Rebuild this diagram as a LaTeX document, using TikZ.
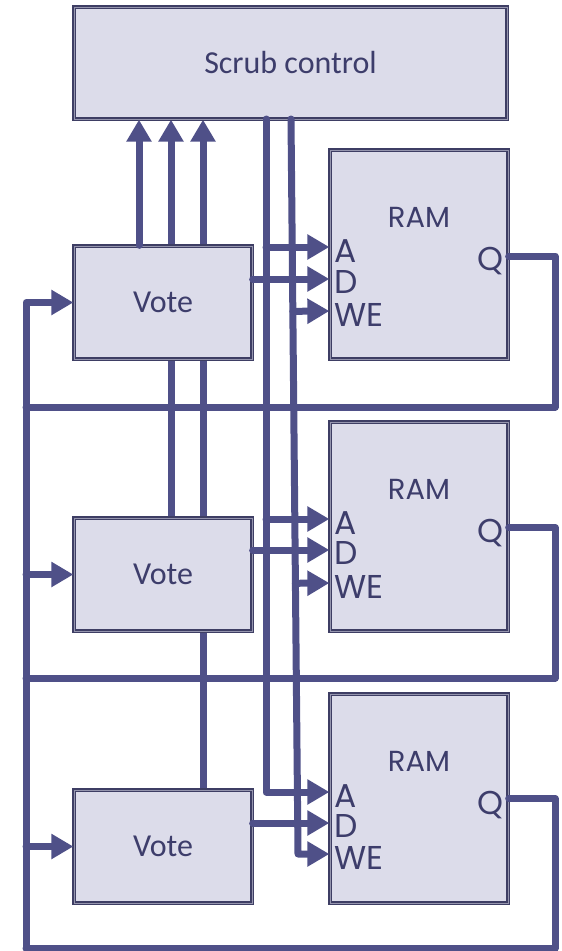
\documentclass[tikz,border=0pt]{standalone}
\usepackage{fontspec}
\setmainfont{Carlito}
\newfontfamily\pinfont{Poppins}
\usepackage{tikz}
\usetikzlibrary{arrows.meta,calc,positioning,backgrounds}
\definecolor{sigblue}{RGB}{79,80,136}
\definecolor{boxfill}{RGB}{220,220,234}
\definecolor{boxedge}{RGB}{62,62,100}
\definecolor{textblue}{RGB}{61,61,107}

\tikzset{
  block/.style={draw=boxedge, fill=boxfill, line width=1.3pt, double=boxfill!55!boxedge,
    double distance=1pt, inner sep=0pt, text=textblue, font=\fontsize{32}{36}\selectfont},
  sig/.style={draw=sigblue, line width=7pt, line cap=round, line join=round},
  sigarrow/.style={sig, -{Triangle[length=22pt,width=24pt]}},
  pinlbl/.style={inner sep=0pt, text=textblue, font=\pinfont\fontsize{33}{36}\selectfont},
  ramlbl/.style={pinlbl, font=\pinfont\fontsize{29}{32}\selectfont},
}

\begin{document}
\begin{tikzpicture}[x=1pt,y=-1pt]
        \useasboundingbox (0,0) rectangle (562,951);
        %Blocks
        \node[block, minimum width=433pt, minimum height=112pt] (scrub) at (290.5,63) {Scrub control};
        \node[block, minimum width=178pt, minimum height=113pt] (vote1) at (163,302.5) {Vote};
        \node[block, minimum width=178pt, minimum height=113pt] (vote2) at (163,574.5) {Vote};
        \node[block, minimum width=178pt, minimum height=113pt] (vote3) at (163,846.5) {Vote};
        \node[block, minimum width=178pt, minimum height=209pt] (ram1) at (419,254.5) {};
        \node[block, minimum width=178pt, minimum height=209pt] (ram2) at (419,526.5) {};
        \node[block, minimum width=178pt, minimum height=209pt] (ram3) at (419,798.5) {};
        %Pins
        \coordinate (ram1A) at ($(ram1.west)+(0,-7.5)$);
        \coordinate (ram1D) at ($(ram1.west)+(0,24.5)$);
        \coordinate (ram1WE) at ($(ram1.west)+(0,56.5)$);
        \coordinate (ram1Q) at ($(ram1.east)+(0,1.5)$);
        \coordinate (ram2A) at ($(ram2.west)+(0,-7.5)$);
        \coordinate (ram2D) at ($(ram2.west)+(0,23.5)$);
        \coordinate (ram2WE) at ($(ram2.west)+(0,56.5)$);
        \coordinate (ram2Q) at ($(ram2.east)+(0,1)$);
        \coordinate (ram3A) at ($(ram3.west)+(0,-6.5)$);
        \coordinate (ram3D) at ($(ram3.west)+(0,24.5)$);
        \coordinate (ram3WE) at ($(ram3.west)+(0,55.5)$);
        \coordinate (ram3Q) at ($(ram3.east)+(0,0)$);
        %Buses
        \coordinate (atop) at (266,119);
        \coordinate (wetop) at (291,119);
        \coordinate (webot) at (298,854);
        \coordinate (fb1) at (555,407);
        \coordinate (fb2) at (555,678);
        \coordinate (fb3) at (555,948);
        \coordinate (lb1) at (26,407);
        \coordinate (lb2) at (26,678);
        \coordinate (lb3) at (26,948);
        %Labels
        \node[ramlbl, anchor=base] (ram1t) at ($(ram1.center)+(0,-27.5)$) {RAM};
        \node[ramlbl, anchor=base] (ram2t) at ($(ram2.center)+(0,-27.5)$) {RAM};
        \node[ramlbl, anchor=base] (ram3t) at ($(ram3.center)+(0,-27.5)$) {RAM};
        \node[pinlbl, anchor=base west] (ram1a) at ($(ram1A)+(5,15)$) {A};
        \node[pinlbl, anchor=base west] (ram1d) at ($(ram1D)+(5,14)$) {D};
        \node[pinlbl, anchor=base west] (ram1we) at ($(ram1WE)+(5,15)$) {WE};
        \node[pinlbl, anchor=base east] (ram1q) at ($(ram1.east)+(-5,15.5)$) {Q};
        \node[pinlbl, anchor=base west] (ram2a) at ($(ram2A)+(5,15)$) {A};
        \node[pinlbl, anchor=base west] (ram2d) at ($(ram2D)+(5,14)$) {D};
        \node[pinlbl, anchor=base west] (ram2we) at ($(ram2WE)+(5,15)$) {WE};
        \node[pinlbl, anchor=base east] (ram2q) at ($(ram2.east)+(-5,15.5)$) {Q};
        \node[pinlbl, anchor=base west] (ram3a) at ($(ram3A)+(5,15)$) {A};
        \node[pinlbl, anchor=base west] (ram3d) at ($(ram3D)+(5,14)$) {D};
        \node[pinlbl, anchor=base west] (ram3we) at ($(ram3WE)+(5,15)$) {WE};
        \node[pinlbl, anchor=base east] (ram3q) at ($(ram3.east)+(-5,15.5)$) {Q};
        %Votes to scrub control
        \begin{scope}[on background layer]
          \draw[sigarrow] ([xshift=8pt]vote2.north) -- ([xshift=8pt]vote2.north |- scrub.south);
          \draw[sigarrow] ([xshift=40pt]vote3.north) -- ([xshift=40pt]vote3.north |- scrub.south);
        \end{scope}
        \draw[sigarrow] ([xshift=-24pt]vote1.north) -- ([xshift=-24pt]vote1.north |- scrub.south);
        %Address bus
        \draw[sigarrow] (atop) |- (ram3A);
        \draw[sigarrow] (atop |- ram1A) -- (ram1A);
        \draw[sigarrow] (atop |- ram2A) -- (ram2A);
        %Write enable bus
        \draw[sigarrow] (wetop) -- (webot) -- (ram3WE);
        \draw[sigarrow] ($(wetop)!(ram1WE)!(webot)$) -- (ram1WE);
        \draw[sigarrow] ($(wetop)!(ram2WE)!(webot)$) -- (ram2WE);
        %Data
        \draw[sigarrow] (vote1.east |- ram1D) -- (ram1D);
        \draw[sigarrow] (vote2.east |- ram2D) -- (ram2D);
        \draw[sigarrow] (vote3.east |- ram3D) -- (ram3D);
        %Feedback
        \draw[sig] (ram1Q) -| (fb1) -- (lb1);
        \draw[sig] (ram2Q) -| (fb2) -- (lb2);
        \draw[sig] (ram3Q) -| (fb3) -- (lb3);
        \draw[sigarrow] (lb3) |- (vote1.west);
        \draw[sigarrow] (lb3 |- vote2.west) -- (vote2.west);
        \draw[sigarrow] (lb3 |- vote3.west) -- (vote3.west);
      \end{tikzpicture}
\end{document}
